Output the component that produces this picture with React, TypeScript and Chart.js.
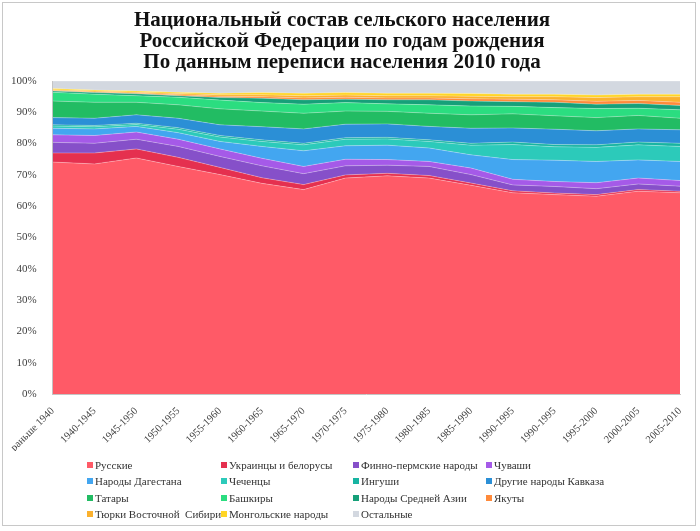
import React, { useEffect, useRef } from "react";
import { Chart, registerables } from "chart.js";

Chart.register(...registerables);

const titleLines = [
  "Национальный состав сельского населения",
  "Российской Федерации по годам рождения",
  "По данным переписи населения 2010 года",
];

const categories = [
  "раньше 1940", "1940-1945", "1945-1950", "1950-1955", "1955-1960", "1960-1965",
  "1965-1970", "1970-1975", "1975-1980", "1980-1985", "1985-1990", "1990-1995",
  "1990-1995", "1995-2000", "2000-2005", "2005-2010",
];

const russians = [74.1, 73.5, 75.4, 72.7, 70.1, 67.3, 65.3, 69.0, 69.7, 69.0, 66.7, 64.3, 63.7, 63.2, 64.8, 64.3];
const ukrBel = [2.9, 3.5, 2.9, 2.9, 2.3, 1.8, 1.6, 1.0, 0.8, 0.8, 0.7, 0.6, 0.5, 0.5, 0.5, 0.5];
const finnoPerm = [3.4, 3.1, 3.1, 3.5, 3.5, 3.8, 3.5, 2.9, 2.6, 2.9, 2.7, 1.9, 2.1, 1.9, 1.8, 1.6];
const chuvash = [2.4, 2.5, 2.3, 2.3, 2.4, 2.4, 2.3, 2.1, 1.8, 1.6, 2.1, 1.8, 1.6, 1.9, 1.9, 1.8];
const dagestan = [2.1, 2.1, 1.8, 2.1, 2.4, 3.8, 5.0, 4.3, 4.6, 4.3, 4.2, 6.3, 6.8, 6.8, 5.8, 6.1];
const chechens = [0.7, 0.7, 0.6, 1.1, 1.4, 1.6, 1.9, 2.1, 2.0, 2.1, 3.1, 4.8, 4.3, 4.5, 4.8, 4.8];
const ingush = [0.4, 0.4, 0.4, 0.5, 0.5, 0.5, 0.5, 0.5, 0.5, 0.5, 0.6, 0.8, 0.7, 0.8, 0.9, 1.0];
const otherCaucasus = [2.3, 2.3, 2.7, 3.0, 3.4, 4.2, 4.6, 4.3, 4.3, 4.3, 4.8, 4.5, 4.9, 4.5, 4.2, 4.3];
const tatars = [5.3, 5.1, 4.0, 4.3, 5.1, 5.0, 5.0, 4.2, 4.0, 4.2, 4.3, 4.5, 4.3, 4.2, 4.3, 3.7];
const bashkirs = [2.8, 2.6, 2.1, 2.4, 2.8, 2.7, 2.9, 2.7, 2.4, 2.7, 2.8, 2.4, 2.6, 2.9, 2.3, 2.7];
const centralAsia = [0.4, 0.5, 0.6, 0.5, 0.8, 1.4, 1.4, 1.1, 1.3, 1.6, 1.6, 1.5, 1.7, 1.4, 1.5, 1.4];
const yakuts = [0.2, 0.2, 0.2, 0.3, 0.4, 0.5, 0.6, 0.6, 0.6, 0.6, 0.7, 0.8, 0.8, 0.9, 1.0, 1.0];
const siberianTurks = [0.2, 0.3, 0.3, 0.4, 0.5, 0.6, 0.7, 0.7, 0.7, 0.7, 0.8, 0.8, 1.0, 1.2, 1.2, 1.8];
const mongolic = [0.4, 0.3, 0.4, 0.4, 0.5, 0.7, 0.8, 0.8, 0.8, 0.8, 0.9, 0.8, 0.8, 0.8, 0.8, 0.8];
const others = [2.4, 2.9, 3.2, 3.6, 3.9, 3.7, 3.9, 3.7, 3.9, 3.9, 4.0, 4.2, 4.2, 4.5, 4.2, 4.2];

const seriesNames = [
  "Русские", "Украинцы и белорусы", "Финно-пермские народы", "Чуваши",
  "Народы Дагестана", "Чеченцы", "Ингуши", "Другие народы Кавказа",
  "Татары", "Башкиры", "Народы Средней Азии", "Якуты",
  "Тюрки Восточной  Сибири", "Монгольские народы", "Остальные",
];
const seriesValues = [
  russians, ukrBel, finnoPerm, chuvash, dagestan, chechens, ingush, otherCaucasus,
  tatars, bashkirs, centralAsia, yakuts, siberianTurks, mongolic, others,
];
const seriesColors = [
  "#FF5A67", "#E5304F", "#8650C9", "#A55AE8", "#43A6F0", "#2CCABA", "#17B4A2", "#2B8FD6",
  "#22BC63", "#2BDD80", "#16A079", "#FF8A3A", "#FBB12E", "#FFD526", "#D3D8E0",
];

const serif = "'Liberation Serif', 'DejaVu Serif', serif";

export default function App() {
  const canvasRef = useRef<HTMLCanvasElement | null>(null);

  useEffect(() => {
    document.body.style.margin = "0";
    const canvas = canvasRef.current;
    if (!canvas) return;
    const chart = new Chart(canvas, {
      type: "line",
      data: {
        labels: categories,
        datasets: seriesNames.map((name, i) => ({
          label: name,
          data: seriesValues[i],
          backgroundColor: seriesColors[i],
          borderColor: "rgba(255,255,255,0.35)",
          borderWidth: 0.8,
          pointRadius: 0,
          tension: 0,
          fill: i === 0 ? "origin" : "-1",
        })),
      },
      options: {
        responsive: false,
        animation: false,
        events: [],
        layout: { padding: { left: 4, right: 20, top: 0, bottom: 80 } },
        plugins: {
          legend: { display: false },
          tooltip: { enabled: false },
          title: {
            display: true,
            text: titleLines,
            color: "#111",
            font: { family: serif, size: 21, weight: "bold", lineHeight: 1.0 },
            padding: { top: 10, bottom: 8 },
          },
        },
        scales: {
          x: {
            grid: { display: false },
            border: { display: true, color: "#c4c4c4" },
            ticks: {
              autoSkip: false,
              maxRotation: 45,
              minRotation: 45,
              color: "#404040",
              padding: 3,
              font: { family: serif, size: 10.5 },
            },
            afterFit: (s: any) => {
              s.height = 57;
            },
          },
          y: {
            stacked: true,
            min: 0,
            max: 100,
            grid: { display: false },
            border: { display: true, color: "#c4c4c4" },
            ticks: {
              stepSize: 10,
              color: "#404040",
              padding: 8,
              font: { family: serif, size: 11 },
              callback: (v: any) => v + "%",
            },
            afterFit: (s: any) => {
              s.width = 48.7;
            },
          },
        },
      },
    });
    return () => chart.destroy();
  }, []);

  const colX = [87, 221, 353, 486];
  const rowY = [465, 481, 498, 514];

  return (
    <div style={{ position: "relative", width: 700, height: 531, background: "#fff", overflow: "hidden" }}>
      <div
        style={{
          position: "absolute",
          left: 2,
          top: 2,
          width: 694,
          height: 524,
          border: "1px solid #c8c8c8",
          boxSizing: "border-box",
        }}
      />
      <canvas ref={canvasRef} width={700} height={531} style={{ position: "absolute", left: 0, top: 0 }} />
      {seriesNames.map((name, i) => (
        <div
          key={i}
          style={{
            position: "absolute",
            left: colX[i % 4],
            top: rowY[Math.floor(i / 4)] - 8,
            height: 16,
            display: "flex",
            alignItems: "center",
            whiteSpace: "pre",
            fontFamily: serif,
            fontSize: 11,
            color: "#333",
          }}
        >
          <span
            style={{ display: "inline-block", width: 6, height: 6, background: seriesColors[i], marginRight: 2 }}
          />
          {name}
        </div>
      ))}
    </div>
  );
}
